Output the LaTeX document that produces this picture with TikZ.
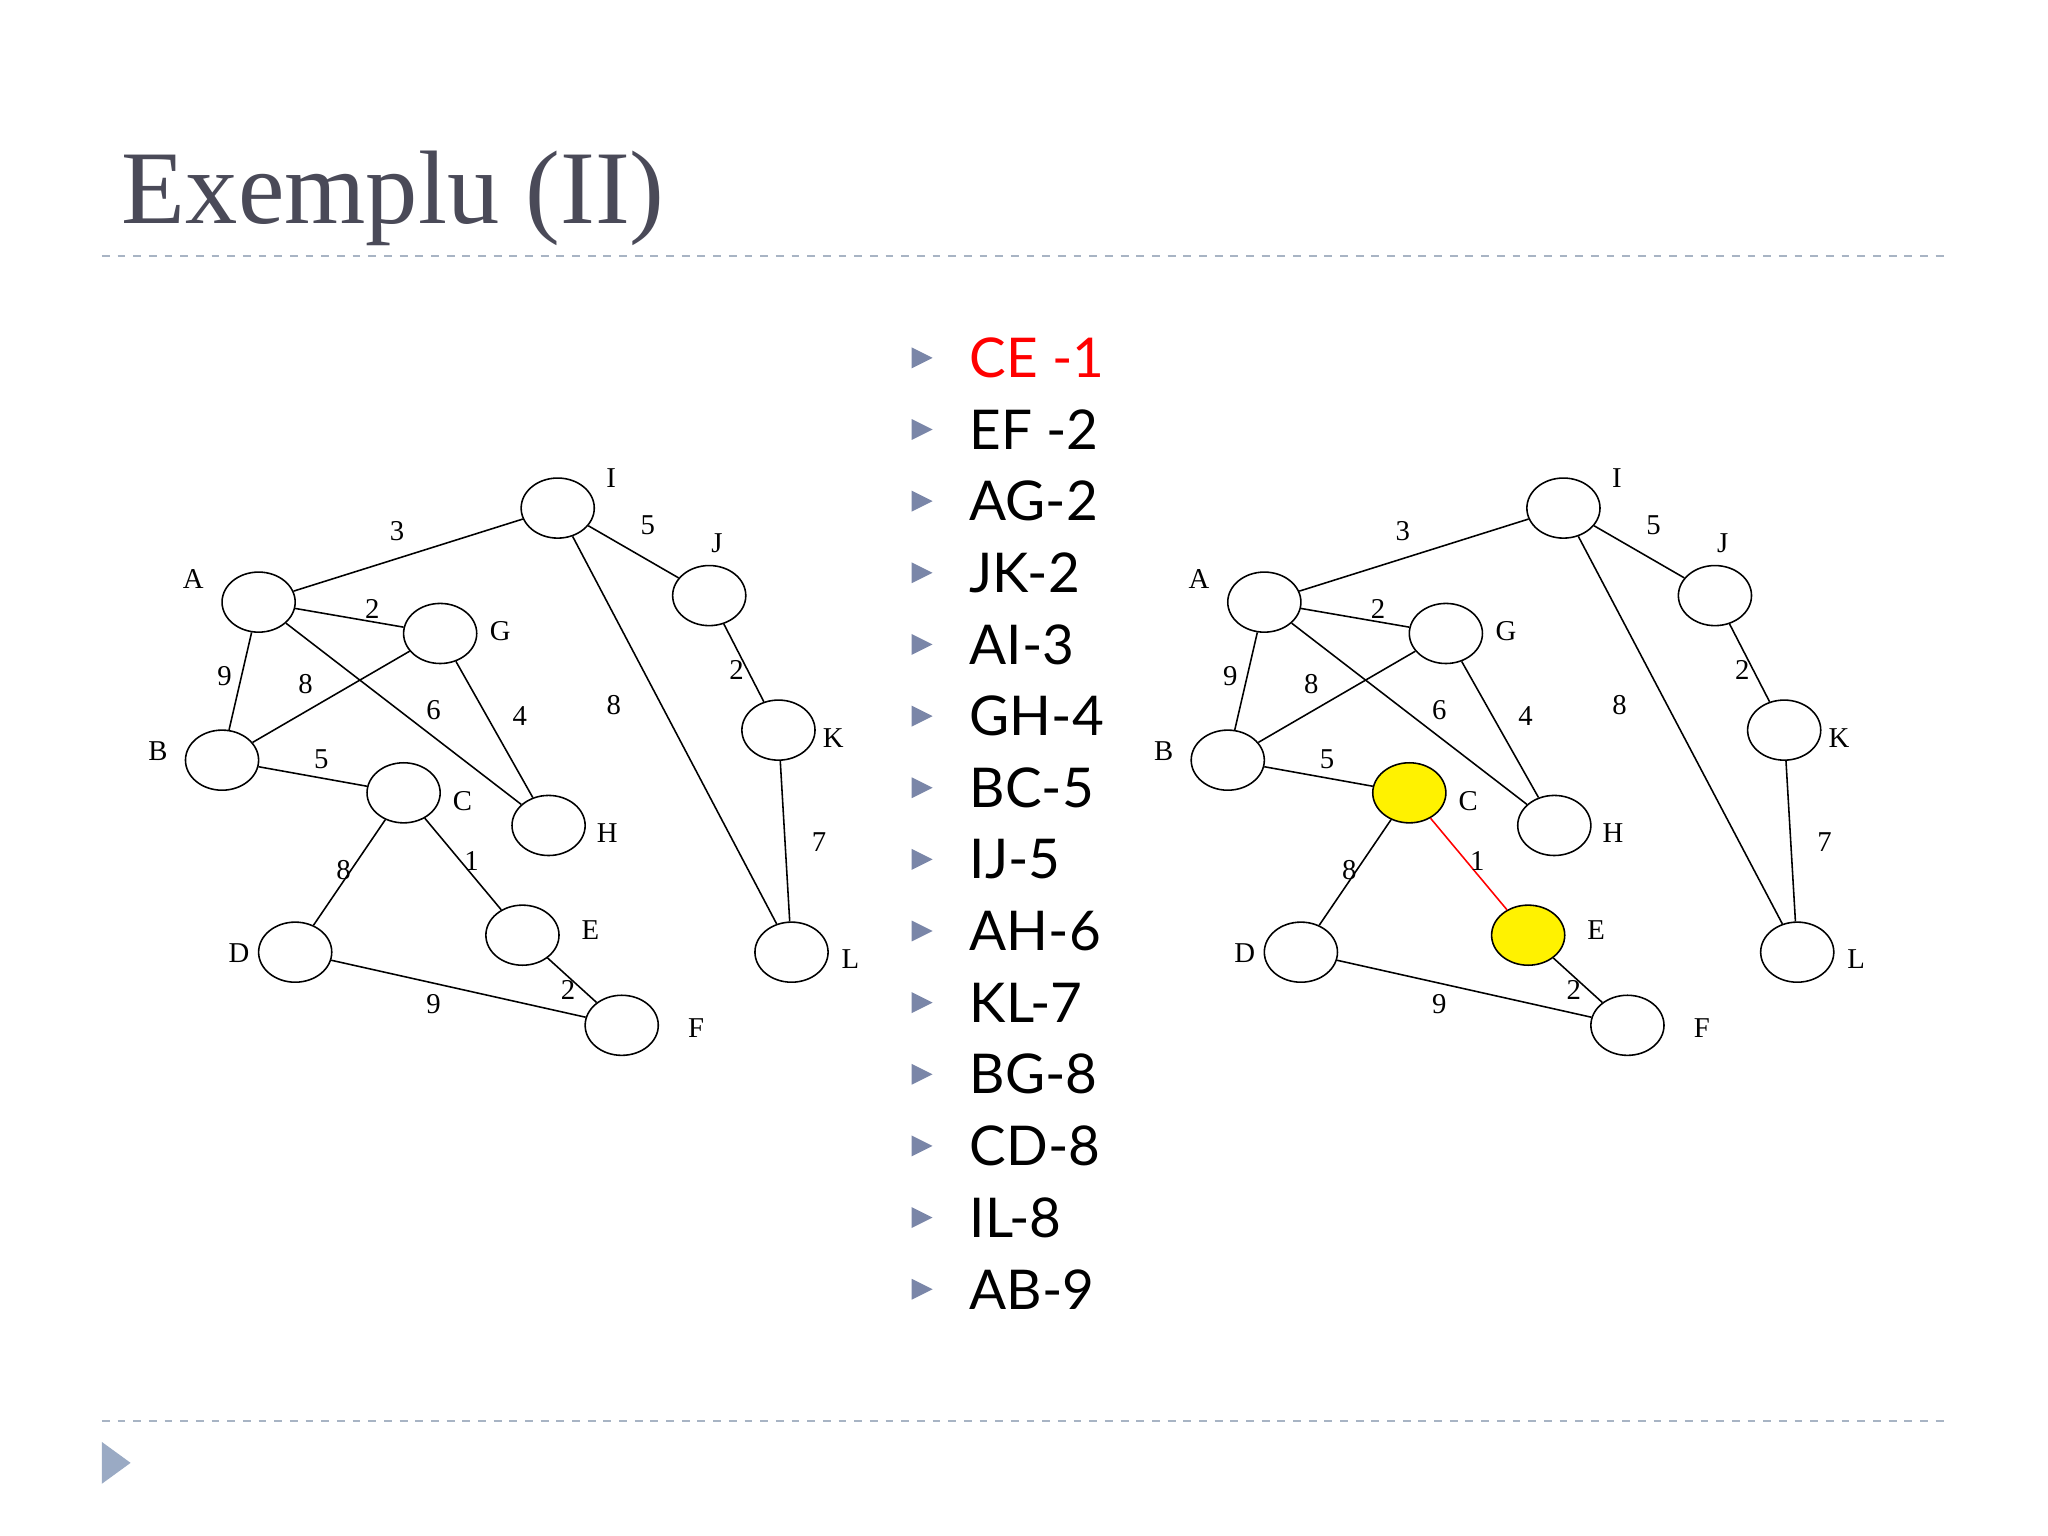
\documentclass[tikz,border=0pt]{standalone}
\usepackage{fontspec}
\setmainfont{Liberation Serif}
\newfontfamily\listfont{Lato}
\definecolor{titlec}{HTML}{4A4A58}
\definecolor{rulec}{HTML}{A8B4C4}
\definecolor{bulc}{HTML}{7A86A8}
\definecolor{bigtri}{HTML}{9AAAC4}
\tikzset{
 v/.style={draw,ellipse,minimum width=28pt,minimum height=23pt,inner sep=0pt,line width=0.6pt},
 lab/.style={font=\fontsize{11}{11}\selectfont,inner sep=0pt},
 e/.style={line width=0.6pt},
 li/.style={font=\listfont\fontsize{21}{21}\selectfont,anchor=west,inner sep=0pt},
 bul/.style={fill=bulc,draw=none}
}
\usetikzlibrary{shapes.geometric}
\newcommand\mygraph[3]{%
 \node[v] (#1I) at (427,389){}; \node[v] (#1J) at (543,456){};
 \node[v] (#1K) at (596,559){}; \node[v] (#1L) at (606,729){};
 \node[v] (#1A) at (198,461){}; \node[v] (#1G) at (337,485){};
 \node[v] (#1B) at (170,582){}; \node[v,#2] (#1C) at (309,607){};
 \node[v] (#1H) at (420,632){}; \node[v] (#1D) at (226,729){};
 \node[v,#2] (#1E) at (400,716){}; \node[v] (#1F) at (476,785){};
 \node[lab] (#1tI) at (468,366){I}; \node[lab] (#1tJ) at (549,416){J};
 \node[lab] (#1tK) at (638,565){K}; \node[lab] (#1tL) at (651,734){L};
 \node[lab] (#1tA) at (148,443){A}; \node[lab] (#1tG) at (383,483){G};
 \node[lab] (#1tB) at (121,575){B}; \node[lab] (#1tC) at (354,613){C};
 \node[lab] (#1tH) at (465,638){H}; \node[lab] (#1tD) at (183,730){D};
 \node[lab] (#1tE) at (452,712){E}; \node[lab] (#1tF) at (533,787){F};
 \draw[e] (#1A)--(#1I); \node[lab] (#1w1) at (304,407){3};
 \draw[e] (#1I)--(#1J); \node[lab] (#1w2) at (496,402){5};
 \draw[e] (#1J)--(#1K); \node[lab] (#1w3) at (564,513){2};
 \draw[e] (#1K)--(#1L); \node[lab] (#1w4) at (627,645){7};
 \draw[e] (#1I)--(#1L); \node[lab] (#1w5) at (470,540){8};
 \draw[e] (#1A)--(#1G); \node[lab] (#1w6) at (285,466){2};
 \draw[e] (#1A)--(#1B); \node[lab] (#1w7) at (172,518){9};
 \draw[e] (#1B)--(#1G); \node[lab] (#1w8) at (234,524){8};
 \draw[e] (#1A)--(#1H); \node[lab] (#1w9) at (332,544){6};
 \draw[e] (#1G)--(#1H); \node[lab] (#1w10) at (398,548){4};
 \draw[e] (#1B)--(#1C); \node[lab] (#1w11) at (246,581){5};
 \draw[e] (#1C)--(#1D); \node[lab] (#1w12) at (263,666){8};
 \draw[e,#3] (#1C)--(#1E); \node[lab] (#1w13) at (361,659){1};
 \draw[e] (#1D)--(#1F); \node[lab] (#1w14) at (332,769){9};
 \draw[e] (#1E)--(#1F); \node[lab] (#1w15) at (435,758){2};
}
\begin{document}
\begin{tikzpicture}[x=0.5pt,y=-0.5pt]
\useasboundingbox[fill=white] (0,0) rectangle (1568,1176);
\node[anchor=west,inner sep=0pt,text=titlec,font=\fontsize{40}{40}\selectfont] (title) at (93,152) {Exemplu (II)};
\draw[rulec,dashed,line width=0.6pt] (78,196)--(1490,196);
\draw[rulec,dashed,line width=0.6pt] (78,1088)--(1490,1088);
\fill[bigtri] (78,1104)--(100,1120)--(78,1136)--cycle;
\mygraph{L}{}{}
\begin{scope}[xshift=385pt]
\mygraph{R}{fill=yellow}{red}
\end{scope}
\foreach \t [count=\i] in {CE -1,EF -2,AG-2,JK-2,AI-3,GH-4,BC-5,IJ-5,AH-6,KL-7,BG-8,CD-8,IL-8,AB-9}{
 \pgfmathsetmacro\yy{274+(\i-1)*54.85}
 \fill[bul] (698,\yy-8)--(714,\yy)--(698,\yy+8)--cycle;
 \ifnum\i=1
  \node[li,text=red] (it\i) at (742,\yy) {\t};
 \else
  \node[li] (it\i) at (742,\yy) {\t};
 \fi
}
\end{tikzpicture}
\end{document}
